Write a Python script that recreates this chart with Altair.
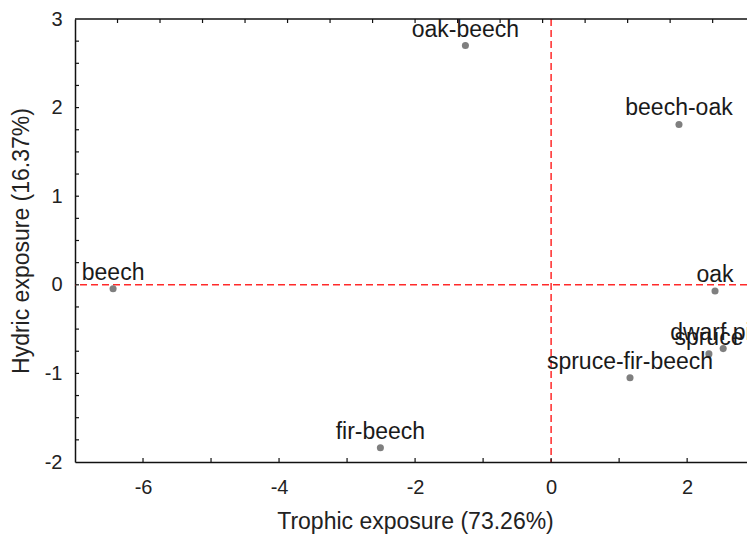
import altair as alt
import pandas as pd

names = ["oak-beech", "beech-oak", "beech", "oak", "dwarf pine", "spruce",
         "spruce-fir-beech", "fir-beech"]
trophic = [-1.26, 1.88, -6.44, 2.41, 2.53, 2.32, 1.16, -2.51]
hydric = [2.70, 1.81, -0.045, -0.07, -0.72, -0.78, -1.05, -1.84]

x_major = [-6, -4, -2, 0, 2]
x_minor = [-6, -5, -4, -3, -2, -1, 0, 1, 2]
y_major = [-2, -1, 0, 1, 2, 3]
y_minor = [-1.75, -1.5, -1.25, -1, -0.75, -0.5, -0.25, 0, 0.25, 0.5, 0.75,
           1, 1.25, 1.5, 1.75, 2, 2.25, 2.5, 2.75]
top_ticks = [-6.375, -5.75, -5.125, -4.5, -3.875, -3.25, -2.625, -2.0,
             -1.375, -0.75, -0.125, 0.5, 1.125, 1.75, 2.375]

W, H = 672, 443
FONT = "Liberation Sans"
LBL = "datum.value < 0 ? '-' + abs(datum.value) : '' + datum.value"

df = pd.DataFrame({"name": names, "x": trophic, "y": hydric})

xs = alt.Scale(domain=[-7, 2.88], nice=False, zero=False)
ys = alt.Scale(domain=[-2, 3], nice=False, zero=False)

xaxis = alt.Axis(values=x_major, title="Trophic exposure (73.26%)", grid=False,
                 labelExpr=LBL,
                 tickSize=0, labelPadding=31, labelBaseline="alphabetic",
                 labelFontSize=20, labelFont=FONT, labelColor="#222",
                 titleFontSize=23, titleFont=FONT, titleFontWeight="normal",
                 titleColor="#222", titleX=340, titleY=66,
                 titleBaseline="alphabetic", domainColor="#111", domainWidth=1.5)
yaxis = alt.Axis(values=y_major, title="Hydric exposure (16.37%)", grid=False,
                 labelExpr=LBL,
                 tickSize=0, labelPadding=13, labelFontSize=20, labelFont=FONT,
                 labelColor="#222", titleFontSize=23, titleFont=FONT,
                 titleFontWeight="normal", titleColor="#222", titleX=-47,
                 titleBaseline="alphabetic", domainColor="#111", domainWidth=1.5)

points = alt.Chart(df).mark_circle(size=50, color="#7f7f7f", opacity=1, clip=True).encode(
    x=alt.X("x:Q", scale=xs, axis=xaxis),
    y=alt.Y("y:Q", scale=ys, axis=yaxis),
)

labels = alt.Chart(df).mark_text(font=FONT, fontSize=23, color="#1a1a1a",
                                 baseline="alphabetic", align="center", dy=-9,
                                 clip=True).encode(
    x=alt.X("x:Q", scale=xs), y=alt.Y("y:Q", scale=ys), text="name:N")

red = "#ff2a2a"
vline = alt.Chart(pd.DataFrame({"v": [0]})).mark_rule(
    color=red, strokeDash=[7, 4], strokeWidth=1.5).encode(x=alt.X("v:Q", scale=xs))
hline = alt.Chart(pd.DataFrame({"v": [0]})).mark_rule(
    color=red, strokeDash=[7, 4], strokeWidth=1.5).encode(y=alt.Y("v:Q", scale=ys))

top_border = alt.Chart(pd.DataFrame({"v": [3]})).mark_rule(
    color="#111", strokeWidth=1.5).encode(y=alt.Y("v:Q", scale=ys))

tick_col = "#111"
yticks = alt.Chart(pd.DataFrame({"v": y_minor})).mark_rule(
    color=tick_col, strokeWidth=1.2).encode(
    y=alt.Y("v:Q", scale=ys), x=alt.value(0), x2=alt.value(4))
xticks = alt.Chart(pd.DataFrame({"v": x_minor})).mark_rule(
    color=tick_col, strokeWidth=1.2).encode(
    x=alt.X("v:Q", scale=xs), y=alt.value(H), y2=alt.value(H - 4))
tticks = alt.Chart(pd.DataFrame({"v": top_ticks})).mark_rule(
    color=tick_col, strokeWidth=1.2).encode(
    x=alt.X("v:Q", scale=xs), y=alt.value(0), y2=alt.value(4))

chart = alt.layer(vline, hline, top_border, yticks, xticks, tticks, points, labels).properties(
    width=W, height=H, autosize="none",
    padding={"left": 75, "top": 19, "right": 0, "bottom": 72},
    background="white",
).configure_view(stroke=None)

chart.save("out.html", embed_options={"renderer": "svg", "actions": False})
